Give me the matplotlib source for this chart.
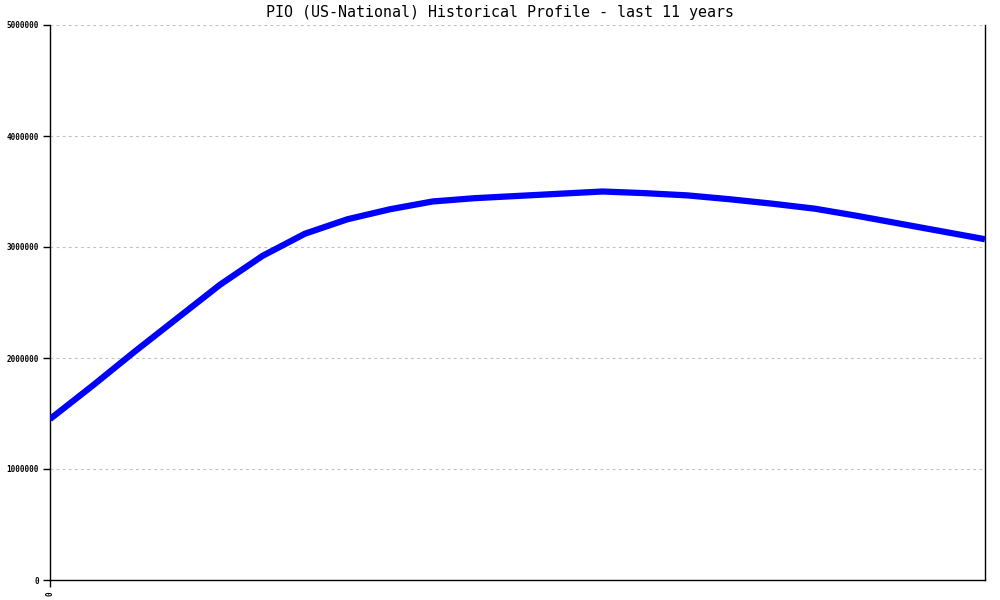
import matplotlib
matplotlib.use("Agg")
import matplotlib.pyplot as plt

title = "PIO (US-National) Historical Profile - last 11 years"
periods = list(range(23))
values = [1450000, 1750000, 2060000, 2360000, 2660000, 2920000, 3120000, 3250000,
          3340000, 3410000, 3440000, 3460000, 3480000, 3500000, 3485000, 3465000,
          3430000, 3390000, 3345000, 3280000, 3210000, 3140000, 3070000]
yticks = [0, 1000000, 2000000, 3000000, 4000000, 5000000]
ytick_labels = ["0", "1000000", "2000000", "3000000", "4000000", "5000000"]
xticks = [0]
xtick_labels = ["0"]

fig = plt.figure(figsize=(10, 6), dpi=100)
ax = fig.add_axes([0.05, 1 - 580 / 600, 0.935, 555 / 600])
ax.plot(periods, values, color="#0000ff", linewidth=4.5, solid_capstyle="butt", zorder=3)
ax.set_xlim(periods[0], periods[-1])
ax.set_ylim(0, 5000000)
ax.set_yticks(yticks)
ax.set_yticklabels(ytick_labels, fontsize=5.5, fontweight="bold", family="DejaVu Sans Mono")
ax.set_xticks(xticks)
ax.set_xticklabels(xtick_labels, fontsize=5.5, fontweight="bold", family="DejaVu Sans Mono", rotation=90)
ax.tick_params(axis="both", direction="out", length=5, width=1, color="black", pad=3)
ax.grid(axis="y", color="#c0c0c0", linestyle=(0, (2.5, 3)), linewidth=0.8, zorder=0)
ax.spines["top"].set_visible(False)
for s in ["left", "bottom", "right"]:
    ax.spines[s].set_linewidth(1)
    ax.spines[s].set_color("black")
fig.text(0.5, 1 - 13 / 600, title, fontsize=10.8, family="DejaVu Sans Mono",
         ha="center", va="center")
fig.savefig("out.png", dpi=100, facecolor="white")
